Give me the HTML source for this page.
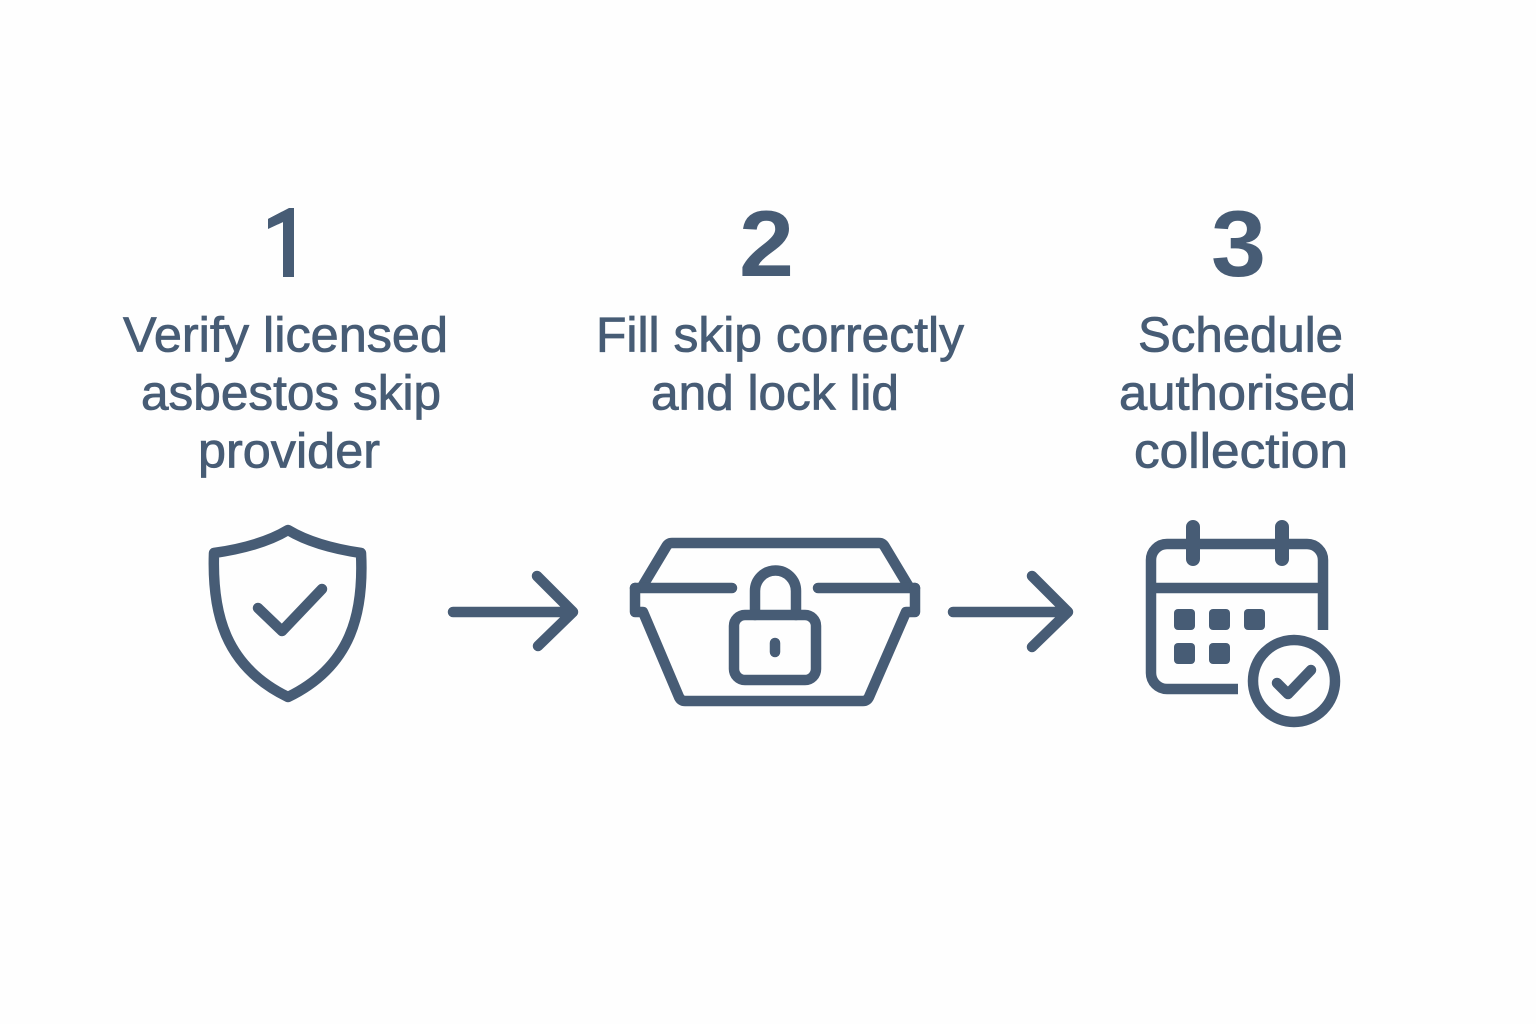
<!DOCTYPE html>
<html>
<head>
<meta charset="utf-8">
<style>
html,body{margin:0;padding:0;background:#fefefe}
svg{display:block}
.n{font-family:"Liberation Sans",sans-serif;font-size:94px;font-weight:bold;fill:#475c75}
.t{font-family:"Liberation Sans",sans-serif;font-size:49px;fill:#475c75;stroke:#475c75;stroke-width:.8px}
.i{fill:none;stroke:#475c75;stroke-width:10.5;stroke-linecap:round;stroke-linejoin:round}
.f{fill:#475c75}
</style>
</head>
<body>
<svg width="1536" height="1024" viewBox="0 0 1536 1024" xmlns="http://www.w3.org/2000/svg">
<defs>
<clipPath id="one"><polygon points="268,219 289,208 294,208 294,277 283,277 283,222 268,229"/></clipPath>
</defs>
<rect width="1536" height="1024" fill="#fefefe"/>
<text class="n" x="256" y="276" textLength="52" lengthAdjust="spacingAndGlyphs" clip-path="url(#one)">1</text>
<polygon class="f" points="268,219 289,208 294,208 294,277 283,277 283,222 268,229"/>
<text class="n" x="739" y="276" textLength="55" lengthAdjust="spacingAndGlyphs">2</text>
<text class="n" x="1211" y="276" textLength="55" lengthAdjust="spacingAndGlyphs">3</text>

<text class="t" x="123" y="351.5" textLength="325" lengthAdjust="spacingAndGlyphs">Verify licensed</text>
<text class="t" x="141" y="409.5" textLength="300" lengthAdjust="spacingAndGlyphs">asbestos skip</text>
<text class="t" x="198" y="467.5" textLength="182" lengthAdjust="spacingAndGlyphs">provider</text>
<text class="t" x="596" y="351.5" textLength="368" lengthAdjust="spacingAndGlyphs">Fill skip correctly</text>
<text class="t" x="651" y="409.5" textLength="248" lengthAdjust="spacingAndGlyphs">and lock lid</text>
<text class="t" x="1138" y="351.5" textLength="205" lengthAdjust="spacingAndGlyphs">Schedule</text>
<text class="t" x="1119" y="409.5" textLength="237" lengthAdjust="spacingAndGlyphs">authorised</text>
<text class="t" x="1134" y="467.5" textLength="214" lengthAdjust="spacingAndGlyphs">collection</text>

<!-- shield -->
<path class="i" d="M288 530 C268 542 242 549 214 553 C212 612 224 666 288 697 C352 666 364 612 361 553 C334 549 308 542 288 530 Z"/>
<path class="i" d="M258 608 L282 631 L322 589"/>

<!-- arrows -->
<path class="i" d="M453 612 H573 M537 576 L573 612 L538 646"/>
<path class="i" d="M953 612 H1068 M1032 576 L1068 612 L1032 647"/>

<!-- skip -->
<path class="i" d="M642 587 L666 547 Q668 543 672 543 H879 Q883 543 885 547 L909 587"/>
<path class="i" d="M635 588 H732 M818 588 H915"/>
<path class="i" d="M635 588 V612 H643 L679 697 Q681 701 685 701 H863 Q867 701 869 697 L906 612 H915 V588"/>
<path class="i" d="M755 615 V591 A20.5 20.5 0 0 1 796 591 V615"/>
<rect class="i" x="734" y="615" width="82" height="65" rx="11"/>
<path class="i" d="M775 643 V652"/>

<!-- calendar -->
<path class="i" style="stroke-linecap:butt" d="M1323 630 V560 A16 16 0 0 0 1307 544 H1167 A16 16 0 0 0 1151 560 V673 A16 16 0 0 0 1167 689 H1238"/>
<path class="i" style="stroke-linecap:butt" d="M1151 588 H1323"/>
<path class="i" style="stroke-width:14" d="M1193 527 V559 M1282 527 V559"/>
<rect class="f" x="1174" y="609" width="21" height="21" rx="4"/>
<rect class="f" x="1209" y="609" width="21" height="21" rx="4"/>
<rect class="f" x="1244" y="609" width="21" height="21" rx="4"/>
<rect class="f" x="1174" y="643" width="21" height="21" rx="4"/>
<rect class="f" x="1209" y="643" width="21" height="21" rx="4"/>
<circle class="i" cx="1294" cy="681" r="41"/>
<path class="i" d="M1277 683 L1288 694 L1311 670"/>
</svg>
</body>
</html>
